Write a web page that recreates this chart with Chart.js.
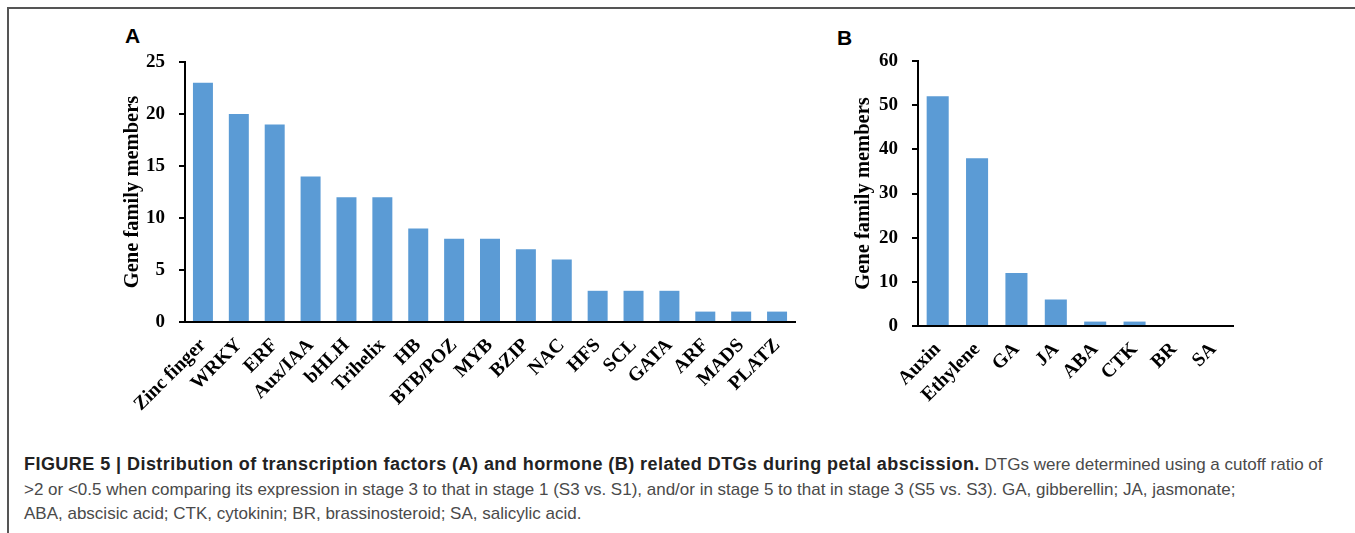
<!DOCTYPE html>
<html>
<head>
<meta charset="utf-8">
<script src="https://cdn.jsdelivr.net/npm/chart.js@4.4.0/dist/chart.umd.min.js"></script>
<style>
  body { margin: 0; background: #fff; width: 1355px; height: 533px; overflow: hidden; position: relative; font-family: "Liberation Sans", Arial, sans-serif; }
  .frame { position: absolute; left: 7px; top: 7px; width: 1360px; height: 540px; border-top: 2px solid #555; border-left: 2px solid #555; }
  .panel { position: absolute; font-weight: bold; font-size: 21px; color: #000; }
  #boxA { position: absolute; left: 0; top: 0; width: 830px; height: 440px; }
  #boxB { position: absolute; left: 830px; top: 0; width: 440px; height: 440px; }
  .cap { position: absolute; left: 24px; font-size: 17px; color: #4a4a4a; white-space: nowrap; }
  .cap b { color: #222; font-size: 18px; letter-spacing: 0.45px; }
</style>
</head>
<body>
<div class="frame"></div>
<div class="panel" style="left:125px; top:24px;">A</div>
<div class="panel" style="left:837px; top:26px;">B</div>
<div id="boxA"><canvas id="chartA"></canvas></div>
<div id="boxB"><canvas id="chartB"></canvas></div>
<div class="cap" style="top:454px;"><b>FIGURE 5 | Distribution of transcription factors (A) and hormone (B) related DTGs during petal abscission.</b> DTGs were determined using a cutoff ratio of</div>
<div class="cap" style="top:480px;">&gt;2 or &lt;0.5 when comparing its expression in stage 3 to that in stage 1 (S3 vs. S1), and/or in stage 5 to that in stage 3 (S5 vs. S3). GA, gibberellin; JA, jasmonate;</div>
<div class="cap" style="top:504px;">ABA, abscisic acid; CTK, cytokinin; BR, brassinosteroid; SA, salicylic acid.</div>
<script>
// panel A: transcription factor families
const tfNames = ['Zinc finger', 'WRKY', 'ERF', 'Aux/IAA', 'bHLH', 'Trihelix', 'HB', 'BTB/POZ', 'MYB', 'BZIP', 'NAC', 'HFS', 'SCL', 'GATA', 'ARF', 'MADS', 'PLATZ'];
const tfCounts = [23, 20, 19, 14, 12, 12, 9, 8, 8, 7, 6, 3, 3, 3, 1, 1, 1];
const tfTicks = [0, 5, 10, 15, 20, 25];

// panel B: hormone related
const hormoneNames = ['Auxin', 'Ethylene', 'GA', 'JA', 'ABA', 'CTK', 'BR', 'SA'];
const hormoneCounts = [52, 38, 12, 6, 1, 1, 0, 0];
const hormoneTicks = [0, 10, 20, 30, 40, 50, 60];

const serif = '"Liberation Serif", "Times New Roman", serif';
const barBlue = '#5b9bd5';

function makeChart(id, names, counts, ticks, area) {
    const ctx = document.getElementById(id);
    return new Chart(ctx, {
        type: 'bar',
        data: {
            labels: names,
            datasets: [{
                data: counts,
                backgroundColor: barBlue,
                borderWidth: 0,
                barPercentage: area.bar,
                categoryPercentage: 1
            }]
        },
        options: {
            responsive: true,
            maintainAspectRatio: false,
            animation: false,
            layout: { padding: { left: 0, right: area.right, top: area.top, bottom: 0 } },
            plugins: { legend: { display: false }, tooltip: { enabled: false } },
            scales: {
                x: {
                    grid: { display: false },
                    border: { display: true, color: '#000', width: 2 },
                    ticks: {
                        color: '#000',
                        font: { family: serif, size: 19.5, weight: 'bold' },
                        minRotation: 45,
                        maxRotation: 45,
                        padding: 4,
                        autoSkip: false
                    },
                    afterFit(scale) { scale.height = area.xh; }
                },
                y: {
                    min: ticks[0],
                    max: ticks[ticks.length - 1],
                    afterBuildTicks(scale) { scale.ticks = ticks.map(v => ({ value: v })); },
                    grid: { drawOnChartArea: false, drawTicks: true, tickLength: 6, color: '#000', lineWidth: 2 },
                    border: { display: true, color: '#000', width: 2 },
                    ticks: {
                        color: '#000',
                        font: { family: serif, size: 19, weight: 'bold' },
                        padding: 14
                    },
                    title: {
                        display: true,
                        text: 'Gene family members',
                        color: '#000',
                        font: { family: serif, size: 20.5, weight: 'bold' },
                        padding: { top: area.titlePad, bottom: 0 }
                    },
                    afterFit(scale) { scale.width = area.yw; }
                }
            }
        }
    });
}

makeChart('chartA', tfNames, tfCounts, tfTicks, { bar: 0.557, right: 35, top: 62, xh: 118, yw: 185, titlePad: 120 });
makeChart('chartB', hormoneNames, hormoneCounts, hormoneTicks, { bar: 0.56, right: 37, top: 61, xh: 114, yw: 88, titlePad: 21 });
</script>
</body>
</html>
